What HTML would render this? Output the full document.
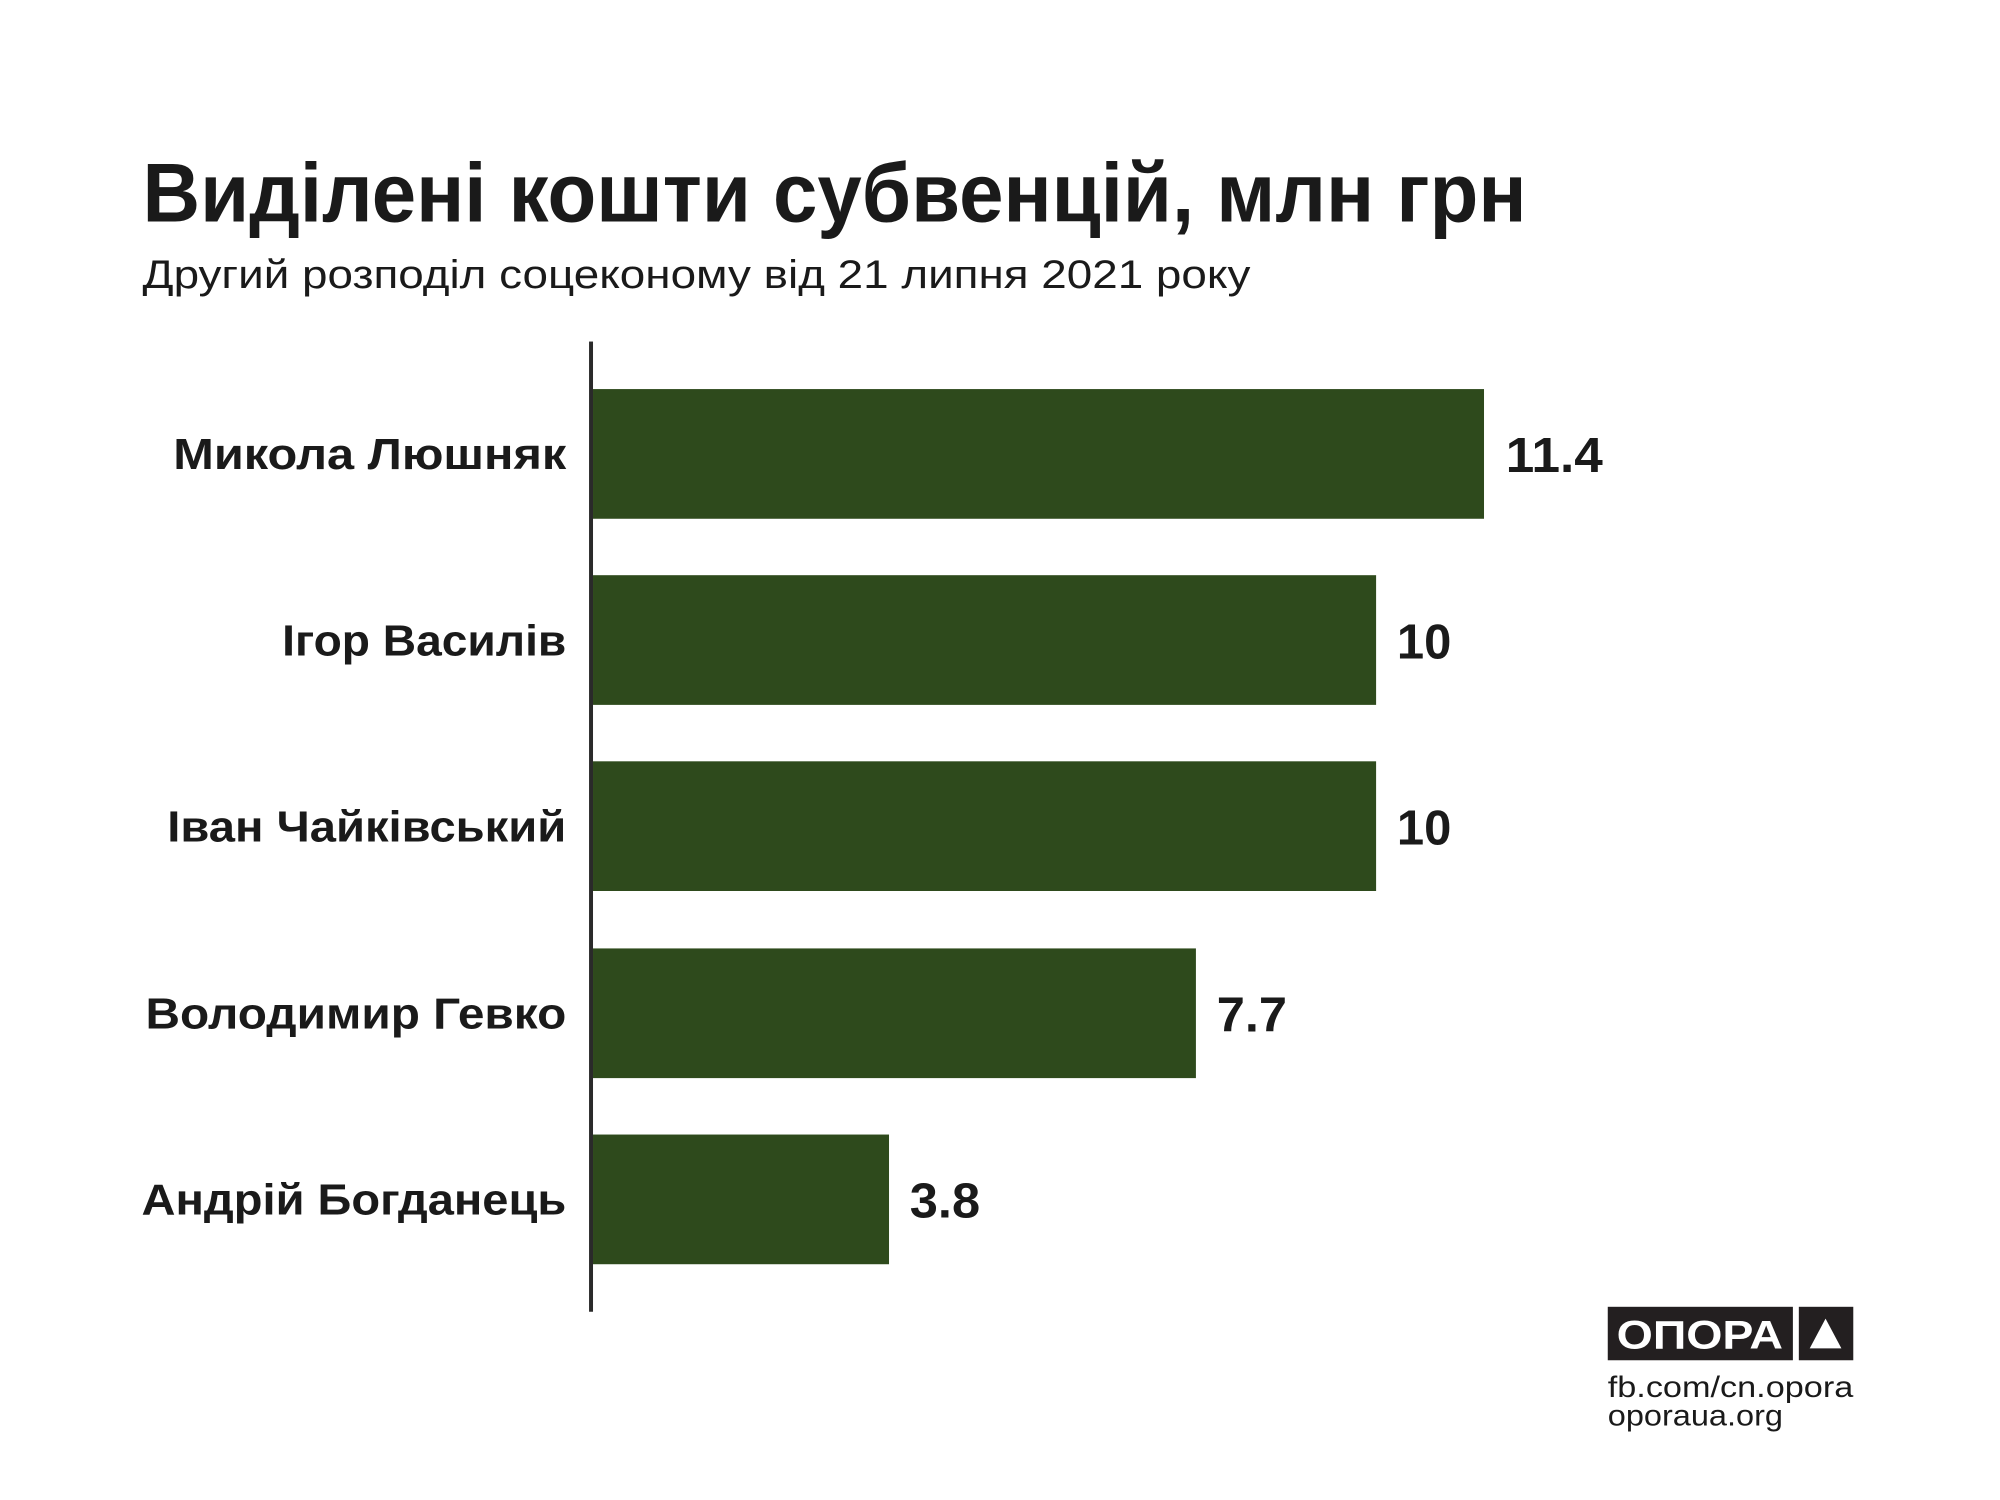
<!DOCTYPE html>
<html><head><meta charset="utf-8"><style>
html,body{margin:0;padding:0;background:#fff;}
svg{display:block}
text{font-family:"Liberation Sans","DejaVu Sans",sans-serif;fill:#1a1a1a}
</style></head><body>
<svg width="2000" height="1500" viewBox="0 0 2000 1500" xmlns="http://www.w3.org/2000/svg">
<rect width="2000" height="1500" fill="#fff"/>
<g transform="scale(0.99)">
<text x="144" y="224" font-size="84" font-weight="bold" textLength="1398" lengthAdjust="spacingAndGlyphs">Виділені кошти субвенцій, млн грн</text>
<text x="144" y="291" font-size="40" textLength="1119" lengthAdjust="spacingAndGlyphs">Другий розподіл соцеконому від 21 липня 2021 року</text>
<rect x="595" y="345" width="4" height="980" fill="#2a2a2a"/>
<g fill="#2e4a1c">
<rect x="599" y="393" width="900" height="131"/>
<rect x="599" y="581" width="791" height="131"/>
<rect x="599" y="769" width="791" height="131"/>
<rect x="599" y="958" width="609" height="131"/>
<rect x="599" y="1146" width="299" height="131"/>
</g>
<g font-size="44" font-weight="bold" text-anchor="end">
<text x="572" y="474" textLength="397" lengthAdjust="spacingAndGlyphs">Микола Люшняк</text>
<text x="572" y="662" textLength="287" lengthAdjust="spacingAndGlyphs">Ігор Василів</text>
<text x="572" y="850" textLength="403" lengthAdjust="spacingAndGlyphs">Іван Чайківський</text>
<text x="572" y="1039" textLength="425" lengthAdjust="spacingAndGlyphs">Володимир Гевко</text>
<text x="572" y="1227" textLength="429" lengthAdjust="spacingAndGlyphs">Андрій Богданець</text>
</g>
<g font-size="50" font-weight="bold">
<text x="1521" y="477" textLength="98" lengthAdjust="spacingAndGlyphs">11.4</text>
<text x="1411" y="665" textLength="55" lengthAdjust="spacingAndGlyphs">10</text>
<text x="1411" y="853" textLength="55" lengthAdjust="spacingAndGlyphs">10</text>
<text x="1229" y="1042" textLength="71" lengthAdjust="spacingAndGlyphs">7.7</text>
<text x="919" y="1230" textLength="71" lengthAdjust="spacingAndGlyphs">3.8</text>
</g>
<rect x="1624" y="1320" width="187" height="54" fill="#231f20"/>
<text x="1717" y="1362" font-size="40" font-weight="bold" text-anchor="middle" style="fill:#fff" textLength="168" lengthAdjust="spacingAndGlyphs">ОПОРА</text>
<rect x="1817" y="1320" width="55" height="54" fill="#231f20"/>
<polygon points="1844,1332 1860,1362 1828,1362" fill="#fff"/>
<text x="1624" y="1411" font-size="30" textLength="248" lengthAdjust="spacingAndGlyphs">fb.com/cn.opora</text>
<text x="1624" y="1440" font-size="30" textLength="177" lengthAdjust="spacingAndGlyphs">oporaua.org</text>
</g>
</svg>
</body></html>
